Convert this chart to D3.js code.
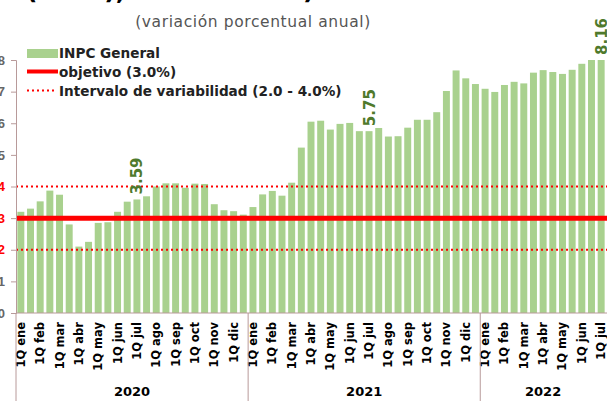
<!DOCTYPE html>
<html>
<head>
<meta charset="utf-8">
<script src="https://cdn.jsdelivr.net/npm/d3@7"></script>
<style>
  body { margin: 0; background: #fff; }
  svg { display: block; font-family: "DejaVu Sans", sans-serif; }
</style>
</head>
<body>
<div class="container"></div>
<script>
// data (annual % change, biweekly INPC)
var years = ["2020", "2021", "2022"];
var months = ["ene", "feb", "mar", "abr", "may", "jun", "jul", "ago", "sep", "oct", "nov", "dic"];
var inpc2020 = [3.20, 3.30, 3.53, 3.87, 3.74, 2.80, 2.10, 2.25, 2.85, 2.87, 3.20, 3.52,
                3.59, 3.69, 4.00, 4.10, 4.10, 3.96, 4.09, 4.08, 3.44, 3.25, 3.22, 3.11];
var inpc2021 = [3.35, 3.75, 3.86, 3.71, 4.12, 5.23, 6.05, 6.08, 5.80, 5.98, 6.01, 5.75,
                5.75, 5.85, 5.58, 5.59, 5.86, 6.11, 6.11, 6.35, 7.02, 7.67, 7.42, 7.24];
var inpc2022 = [7.09, 6.99, 7.21, 7.31, 7.26, 7.60, 7.68, 7.62, 7.56, 7.69, 7.88, 8.00, 8.16];
var objetivo = 3.0;
var intervalo = [2.0, 4.0];
var yTicks = [0, 1, 2, 3, 4, 5, 6, 7, 8];
var labelled = ["1Q jul 2020", "1Q jul 2021", "1Q jul 2022"];

var width = 607, height = 401;
var green = "#a9d18e";
var red = "#ff0000";
var axisColor = "#b89a9a";

// build the rows
var rows = [];
[inpc2020, inpc2021, inpc2022].forEach(function(vals, yi) {
    vals.forEach(function(v, i) {
        var q = (i % 2 == 0) ? "1Q" : "2Q";
        var m = months[Math.floor(i / 2)];
        rows.push({ key: q + " " + m + " " + years[yi], q: q, m: m, year: years[yi], value: v });
    });
});

var svg = d3.select(".container").append("svg")
    .attr("width", width)
    .attr("height", height);

var x = d3.scaleBand()
    .domain(rows.map(d => d.key))
    .range([16, 606])
    .paddingInner(0.28)
    .paddingOuter(0.14);

var y = d3.scaleLinear()
    .domain([0, 8])
    .range([313, 60])
    .clamp(true);

// title (cut off at the top in the source) and subtitle
svg.append("text")
    .attr("x", 26).attr("y", -1)
    .style("font-size", "25px").style("font-weight", "bold")
    .text("(INPC), 2020 \u2013 2022)");

svg.append("text")
    .attr("x", 253).attr("y", 27)
    .attr("text-anchor", "middle")
    .style("font-size", "15.5px").style("fill", "#555")
    .style("letter-spacing", "0.6px")
    .text("(variación porcentual anual)");

// bars
svg.selectAll("rect.bar")
    .data(rows)
    .enter()
        .append("rect")
        .attr("class", "bar")
        .attr("fill", green)
        .attr("x", d => x(d.key))
        .attr("width", x.bandwidth())
        .attr("y", d => y(d.value))
        .attr("height", d => y(0) - y(d.value));

// interval + target lines
intervalo.forEach(function(v) {
    svg.append("line")
        .attr("x1", 16).attr("x2", width)
        .attr("y1", y(v)).attr("y2", y(v))
        .attr("stroke", red).attr("stroke-width", 1.8)
        .attr("stroke-dasharray", "2,3");
});
svg.append("line")
    .attr("x1", 16).attr("x2", width)
    .attr("y1", y(objetivo)).attr("y2", y(objetivo))
    .attr("stroke", red).attr("stroke-width", 5);

// y axis
var yAxis = svg.append("g")
    .attr("transform", "translate(16,0)")
    .call(d3.axisLeft(y).tickValues(yTicks).tickSize(5).tickFormat(d3.format("d")));
yAxis.select(".domain").attr("stroke", axisColor);
yAxis.selectAll(".tick line").attr("stroke", axisColor);
yAxis.selectAll(".tick text")
    .attr("x", -11)
    .style("font-size", "13px")
    .style("font-weight", "bold")
    .style("fill", d => (d >= 2 && d <= 4) ? red : "#666");

// x axis
svg.append("line")
    .attr("x1", 16).attr("x2", width)
    .attr("y1", y(0)).attr("y2", y(0))
    .attr("stroke", axisColor);

svg.selectAll("text.month")
    .data(rows.filter(d => d.q == "1Q"))
    .enter()
        .append("text")
        .attr("class", "month")
        .attr("transform", d => "translate(" + (x(d.key) + x.bandwidth() / 2 + 4) + ",322) rotate(-90)")
        .attr("text-anchor", "end")
        .style("font-size", "11.5px")
        .style("font-weight", "bold")
        .text(d => d.q + " " + d.m);

// year separators and labels
years.forEach(function(yr) {
    var yrRows = rows.filter(d => d.year == yr);
    var x0 = x(yrRows[0].key) - x.step() * x.paddingInner() / 2;
    var x1 = x(yrRows[yrRows.length - 1].key) + x.bandwidth() + x.step() * x.paddingInner() / 2;
    svg.append("line")
        .attr("x1", x0).attr("x2", x0)
        .attr("y1", y(0)).attr("y2", height)
        .attr("stroke", axisColor);
    svg.append("text")
        .attr("x", (x0 + x1) / 2)
        .attr("y", 396)
        .attr("text-anchor", "middle")
        .style("font-size", "13px")
        .style("font-weight", "bold")
        .text(yr);
});

// data labels
svg.selectAll("text.dlabel")
    .data(rows.filter(d => labelled.indexOf(d.key) >= 0))
    .enter()
        .append("text")
        .attr("class", "dlabel")
        .attr("transform", d => "translate(" + (x(d.key) + x.bandwidth() / 2 + 5.5) + "," + (y(d.value) - 5) + ") rotate(-90)")
        .style("font-size", "15px")
        .style("font-weight", "bold")
        .style("fill", "#4f7a2c")
        .text(d => d.value.toFixed(2));

// legend
var legend = svg.append("g");
legend.append("rect")
    .attr("x", 27).attr("y", 49).attr("width", 31).attr("height", 9)
    .attr("fill", green);
legend.append("line")
    .attr("x1", 27).attr("x2", 58).attr("y1", 71.5).attr("y2", 71.5)
    .attr("stroke", red).attr("stroke-width", 4);
legend.append("line")
    .attr("x1", 27).attr("x2", 56).attr("y1", 90.5).attr("y2", 90.5)
    .attr("stroke", red).attr("stroke-width", 1.8).attr("stroke-dasharray", "2,3");
var legendText = ["INPC General", "objetivo (3.0%)", "Intervalo de variabilidad (2.0 - 4.0%)"];
legend.selectAll("text")
    .data(legendText)
    .enter()
        .append("text")
        .attr("x", 59)
        .attr("y", (d, i) => 58 + i * 19)
        .style("font-size", "13.6px")
        .style("font-weight", "bold")
        .style("fill", "#222")
        .text(d => d);
</script>
</body>
</html>
